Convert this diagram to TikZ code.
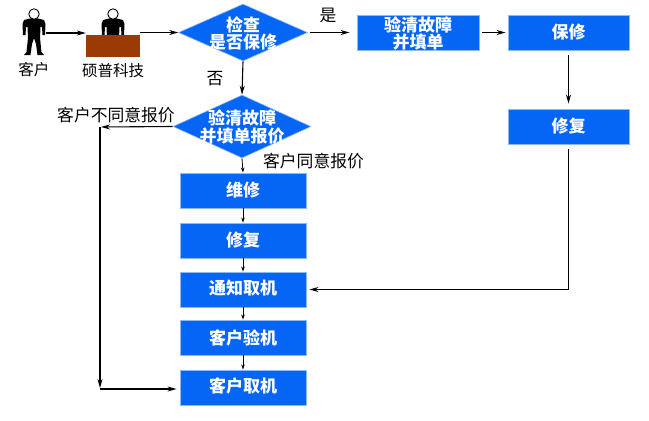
\documentclass[tikz,border=0pt]{standalone}
\usepackage{fontspec}
\setmainfont{Noto Sans CJK SC}
\usetikzlibrary{shapes.geometric,arrows.meta}
\definecolor{flowblue}{HTML}{0565F5}
\definecolor{flowedge}{HTML}{8DB8FA}
\definecolor{deskbrown}{HTML}{9A3B06}
\tikzset{
  x=1pt,y=-1pt,
  procbox/.style={draw=flowedge,line width=.9pt,fill=flowblue,inner sep=0pt,
    minimum width=#1,minimum height=35pt,text=white,align=center,
    font=\fontsize{17}{17}\selectfont\bfseries},
  procbox/.default=126pt,
  decision/.style={diamond,draw=flowedge,line width=.6pt,fill=flowblue,inner sep=0pt},
  dtext/.style={text=white,align=center,font=\fontsize{17}{17.5}\selectfont\bfseries},
  tag/.style={inner sep=0pt,font=\fontsize{15.5}{17}\selectfont},
  widetag/.style={inner sep=0pt,font=\fontsize{16.8}{17}\selectfont},
  arr/.style={line width=1.1pt,-{Stealth[length=9pt,width=5pt]}},
  link/.style={line width=1.1pt},
  smallarr/.style={line width=.8pt,-{Stealth[length=5pt,width=3.5pt]}},
}
% Standing figure: black silhouette with a white round head
\newcommand{\figureat}[1]{%
  \begin{scope}[shift={(#1,0)}]
    \fill[black] (0,18) -- (-4,18.5) -- (-10,20) -- (-11.5,24) -- (-11,35) -- (-8.5,35)
      -- (-8,27) -- (-6.5,27) -- (-6,38) -- (-7.5,52) -- (-10,55) -- (-3.5,55) -- (-2,44)
      -- (0,38) -- (2,44) -- (3.5,55) -- (10,55) -- (7.5,52) -- (6,38) -- (6.5,27)
      -- (8,27) -- (8.5,35) -- (11,35) -- (11.5,24) -- (10,20) -- (4,18.5) -- cycle;
    \draw[black,fill=white,line width=.9pt] (0,14) circle (5.2);
  \end{scope}}
\begin{document}
\begin{tikzpicture}
\useasboundingbox[fill=white] (0,0) rectangle (649,421);

% Customer and desk clerk
\figureat{34}
\figureat{113}
\node[fill=deskbrown,inner sep=0pt,minimum width=54pt,minimum height=22pt] (desk) at (113,46) {};
\coordinate (cust) at (46,33);
\node[tag] (custlabel) at (34,70) {客户};
\node[tag] (desklabel) at (113,71) {硕普科技};

% Decisions
\node[decision,minimum width=129pt,minimum height=57pt,aspect=2.26,
  label={[dtext,yshift=-1pt]center:检查\\是否保修}] (check) at (243,32.5) {};
\node[decision,minimum width=138pt,minimum height=63pt,aspect=2.19,
  label={[dtext,yshift=-.5pt]center:验清故障\\并填单报价}] (quote) at (242,126.5) {};

% Warranty branch
\node[procbox=122pt,label={[text=white,align=center,font=\fontsize{17}{17}\selectfont\bfseries,yshift=-1.5pt]center:验清故障\\并填单}] (inspect) at (418,32.5) {};
\node[procbox=121pt] (warranty) at (568.5,32.5) {\raisebox{-1.5pt}{保修}};
\node[procbox=121pt] (fixa) at (568.5,126.5) {\raisebox{-1.5pt}{修复}};

% Paid repair branch
\node[procbox] (repair) at (243,190.5) {\raisebox{-1pt}{维修}};
\node[procbox] (fixb) at (243,240.5) {\raisebox{-1pt}{修复}};
\node[procbox] (notify) at (243,289.5) {\raisebox{4pt}{通知取机}};
\node[procbox] (accept) at (243,337.5) {\raisebox{-1pt}{客户验机}};
\node[procbox] (pickup) at (243,387.5) {\raisebox{4pt}{客户取机}};

% Branch labels
\node[widetag] (yes) at (328,15) {是};
\node[widetag] (no) at (215,79) {否};
\node[widetag] (refuse) at (116,115) {客户不同意报价};
\node[widetag] (agree) at (313.5,161) {客户同意报价};

% Connectors along the top row
\draw[arr] (cust) -- (desk.west |- cust);
\draw[arr] (desk.east |- check.west) -- (check.west);
\draw[arr,shorten <=2pt,shorten >=7pt] (check.east) -- (inspect.west);
\draw[arr,shorten <=3pt,shorten >=2pt] (inspect.east) -- (warranty.west);
\draw[arr,shorten <=5pt,shorten >=5pt] (warranty) ++(0,17.5) -- (fixa.north);

% Warranty repair returns to the pick-up notice
\coordinate (turn) at (fixa.south |- notify.east);
\draw[link] (fixa.south) ++(0,5) -- (turn);
\draw[arr,shorten >=3pt] (turn) -- (notify.east);

% Central column
\draw[arr] (check.south) -- (quote.north);
\draw[smallarr] (quote.south) -- (repair.north);
\draw[smallarr] (repair.south) -- (fixb.north);
\draw[smallarr] (fixb.south) -- (notify.north);
\draw[smallarr] (notify.south) -- (accept.north);
\draw[smallarr] (accept.south) -- (pickup.north);

% Refused quotation goes straight to pick-up
\coordinate (looptop) at (100,127);
\coordinate (loopbot) at (100,389);
\draw[arr,shorten >=1pt] (quote.west) -- (looptop);
\draw[arr,shorten >=1pt] (looptop) -- (loopbot);
\draw[arr,shorten >=3pt] (loopbot) -- (loopbot -| pickup.west);
\end{tikzpicture}
\end{document}
